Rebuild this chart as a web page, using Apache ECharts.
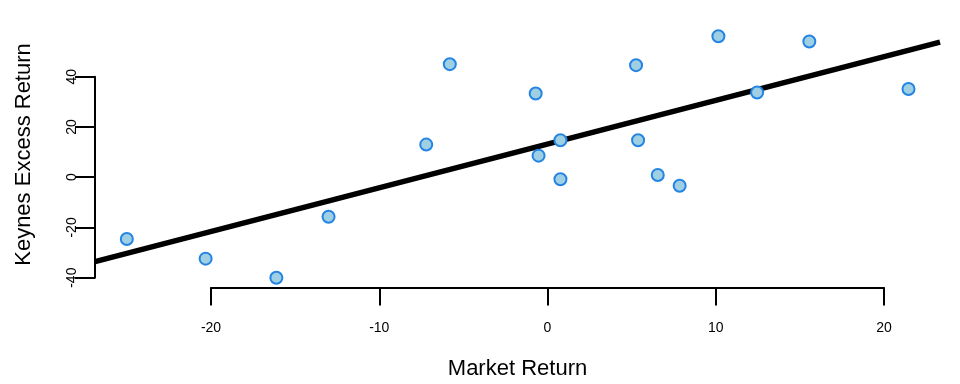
<!DOCTYPE html>
<html>
<head>
<meta charset="utf-8">
<script src="https://cdn.jsdelivr.net/npm/echarts@6/dist/echarts.min.js"></script>
<style>
html,body{margin:0;padding:0;background:#fff;}
#c{width:960px;height:384px;}
</style>
</head>
<body>
<div id="c"></div>
<script>
// Data
const marketReturn = [-24.98, -20.3, -16.1, -13.0, -7.2, -5.8, -0.7, -0.53, 0.77, 0.77, 5.26, 5.38, 6.55, 7.85, 10.15, 12.45, 15.55, 21.44];
const keynesExcess = [-24.7, -32.5, -40.1, -15.8, 12.9, 44.9, 33.2, 8.5, 14.6, -0.9, 44.5, 14.6, 0.8, -3.5, 56.0, 33.6, 53.9, 35.0];
const fitIntercept = 13.1;
const fitSlope = 1.74;
const xTicks = [-20, -10, 0, 10, 20];
const yTicks = [-40, -20, 0, 20, 40];
const xTitle = 'Market Return';
const yTitle = 'Keynes Excess Return';

const plotXMin = -26.87, plotXMax = 23.31;
const plotYMin = -44, plotYMax = 62;

const points = marketReturn.map((x, i) => [x, keynesExcess[i]]);
const fitLine = [plotXMin, plotXMax].map(x => [x, fitIntercept + fitSlope * x]);

const font = '"Liberation Sans", Arial, sans-serif';
const chart = echarts.init(document.getElementById('c'), null, {renderer: 'canvas'});
const hidden = {show: false};
chart.setOption({
  animation: false,
  backgroundColor: '#ffffff',
  grid: [
    {left: 95, width: 845, top: 21.2, height: 266.35},
    {left: 211, width: 673, top: 21.2, height: 266.35},
    {left: 95, width: 845, top: 76.7, height: 201}
  ],
  xAxis: [
    {gridIndex: 0, type: 'value', min: plotXMin, max: plotXMax, axisLine: hidden, axisTick: hidden, axisLabel: hidden, splitLine: hidden},
    {gridIndex: 1, type: 'value', min: xTicks[0], max: xTicks[xTicks.length - 1], interval: 10, position: 'bottom',
      axisLine: {show: true, onZero: false, lineStyle: {color: '#000', width: 2}},
      axisTick: {show: true, length: 18, lineStyle: {color: '#000', width: 2}},
      axisLabel: {show: true, margin: 34, fontSize: 14, color: '#000', fontFamily: font},
      splitLine: hidden},
    {gridIndex: 2, type: 'value', min: plotXMin, max: plotXMax, axisLine: hidden, axisTick: hidden, axisLabel: hidden, splitLine: hidden}
  ],
  yAxis: [
    {gridIndex: 0, type: 'value', min: plotYMin, max: plotYMax, axisLine: hidden, axisTick: hidden, axisLabel: hidden, splitLine: hidden},
    {gridIndex: 1, type: 'value', min: plotYMin, max: plotYMax, axisLine: hidden, axisTick: hidden, axisLabel: hidden, splitLine: hidden},
    {gridIndex: 2, type: 'value', min: yTicks[0], max: yTicks[yTicks.length - 1], interval: 20, position: 'left',
      axisLine: {show: true, onZero: false, lineStyle: {color: '#000', width: 2}},
      axisTick: {show: true, length: 20, lineStyle: {color: '#000', width: 2}},
      axisLabel: {show: true, rotate: 90, margin: 16, fontSize: 14, color: '#000', fontFamily: font},
      splitLine: hidden}
  ],
  graphic: [
    {type: 'text', x: 517.5, y: 369, style: {text: xTitle, fontSize: 22, fontFamily: font, fill: '#000', align: 'center', verticalAlign: 'middle'}},
    {type: 'text', x: 24, y: 154.5, rotation: Math.PI / 2, style: {text: yTitle, fontSize: 22, fontFamily: font, fill: '#000', align: 'center', verticalAlign: 'middle'}}
  ],
  series: [
    {type: 'line', xAxisIndex: 0, yAxisIndex: 0, data: fitLine, showSymbol: false, symbol: 'none',
      lineStyle: {color: '#000', width: 5.5}, clip: true, z: 2},
    {type: 'scatter', xAxisIndex: 0, yAxisIndex: 0, data: points, symbol: 'circle', symbolSize: 12,
      itemStyle: {color: '#9ecfe3', borderColor: '#2484e4', borderWidth: 2, opacity: 1}, z: 3}
  ]
});
</script>
</body>
</html>
